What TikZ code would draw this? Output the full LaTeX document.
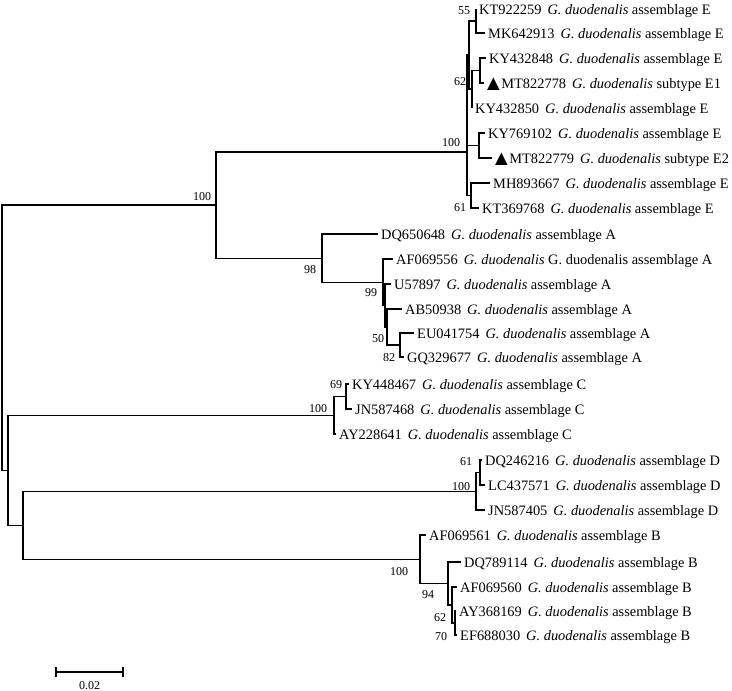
\documentclass[tikz,border=0pt]{standalone}
\usepackage{fontspec}
\setmainfont{Liberation Serif}
\newfontfamily\symfont{DejaVu Sans}
\tikzset{
  taxon/.style={anchor=west, inner xsep=3pt, inner ysep=0pt, text height=10pt,
    text depth=0pt, font=\fontsize{14.4}{17}\selectfont},
  boot/.style={inner sep=0pt, font=\fontsize{12}{14}\selectfont},
  branch/.style={line width=1.1pt}
}
\newcommand{\gd}{\hspace{6pt}\textit{G. duodenalis}}
\newcommand{\tri}{{\symfont\fontsize{16.5}{17}\selectfont ▲}\hspace{1.5pt}}

\begin{document}
\begin{tikzpicture}[x=1pt, y=-1pt]
  \useasboundingbox (0,0) rectangle (732,691);
  % internal nodes
  \coordinate (root) at (2,337.6);
  \coordinate (nEA) at (216,205);
  \coordinate (nE) at (467,152);
  \coordinate (nTop) at (469,55);
  \coordinate (n55) at (476,21);
  \coordinate (n62) at (472,89);
  \coordinate (nKY) at (480,70.5);
  \coordinate (nKYb) at (479,145.5);
  \coordinate (n61) at (471,195.5);
  \coordinate (nA) at (322,258.1);
  \coordinate (nA2) at (383,282.3);
  \coordinate (nA3) at (385,305.5);
  \coordinate (nA4) at (387,327);
  \coordinate (n82) at (400,345);
  \coordinate (nCDB) at (8,470.3);
  \coordinate (nC) at (334,415.3);
  \coordinate (nC2) at (346,396.5);
  \coordinate (nDB) at (23,525.3);
  \coordinate (nD) at (476,491.3);
  \coordinate (nD2) at (480,472.5);
  \coordinate (nB) at (420,559.3);
  \coordinate (nB2) at (448,583.5);
  \coordinate (nB3) at (452,605);
  \coordinate (nB4) at (455,623);
  % taxa
  \node[taxon] (kt922259) at (476,9) {KT922259\gd{} assemblage E};
  \node[taxon] (mk642913) at (485,33) {MK642913\gd{} assemblage E};
  \node[taxon] (ky432848) at (486,58) {KY432848\gd{} assemblage E};
  \node[taxon] (mt822778) at (484,83) {\tri MT822778\gd{} subtype E1};
  \node[taxon] (ky432850) at (472,108) {KY432850\gd{} assemblage E};
  \node[taxon] (ky769102) at (485,133) {KY769102\gd{} assemblage E};
  \node[taxon] (mt822779) at (492,158) {\tri MT822779\gd{} subtype E2};
  \node[taxon] (mh893667) at (490,183) {MH893667\gd{} assemblage E};
  \node[taxon] (kt369768) at (479,208) {KT369768\gd{} assemblage E};
  \node[taxon] (dq650648) at (378,234) {DQ650648\gd{} assemblage A};
  \node[taxon] (af069556) at (393,259) {AF069556\gd{} G. duodenalis assemblage A};
  \node[taxon] (u57897) at (391,284) {U57897\gd{} assemblage A};
  \node[taxon] (ab50938) at (402,309) {AB50938\gd{} assemblage A};
  \node[taxon] (eu041754) at (414,333) {EU041754\gd{} assemblage A};
  \node[taxon] (gq329677) at (404,357) {GQ329677\gd{} assemblage A};
  \node[taxon] (ky448467) at (349,384) {KY448467\gd{} assemblage C};
  \node[taxon] (jn587468) at (352,409) {JN587468\gd{} assemblage C};
  \node[taxon] (ay228641) at (336,434) {AY228641\gd{} assemblage C};
  \node[taxon] (dq246216) at (482,460) {DQ246216\gd{} assemblage D};
  \node[taxon] (lc437571) at (485,485) {LC437571\gd{} assemblage D};
  \node[taxon] (jn587405) at (485,510) {JN587405\gd{} assemblage D};
  \node[taxon] (af069561) at (426,535) {AF069561\gd{} assemblage B};
  \node[taxon] (dq789114) at (461,562) {DQ789114\gd{} assemblage B};
  \node[taxon] (af069560) at (457,587) {AF069560\gd{} assemblage B};
  \node[taxon] (ay368169) at (456,611) {AY368169\gd{} assemblage B};
  \node[taxon] (ef688030) at (457,635) {EF688030\gd{} assemblage B};
  % branches
  \foreach \p/\c in {root/nEA, root/nCDB, nEA/nE, nEA/nA, nE/nTop, nE/nKYb, nE/n61,
      nTop/n55, nTop/n62, n55/kt922259, n55/mk642913, n62/nKY, n62/ky432850,
      nKY/ky432848, nKY/mt822778, nKYb/ky769102, nKYb/mt822779,
      n61/mh893667, n61/kt369768, nA/dq650648, nA/nA2, nA2/af069556, nA2/nA3,
      nA3/u57897, nA3/nA4, nA4/ab50938, nA4/n82, n82/eu041754, n82/gq329677,
      nCDB/nC, nCDB/nDB, nC/nC2, nC/ay228641, nC2/ky448467, nC2/jn587468,
      nDB/nD, nDB/nB, nD/nD2, nD/jn587405, nD2/dq246216, nD2/lc437571,
      nB/af069561, nB/nB2, nB2/dq789114, nB2/nB3, nB3/af069560, nB3/nB4,
      nB4/ay368169, nB4/ef688030}
    \draw[branch] (\p) |- (\c);
  % bootstrap values
  \node[boot] (b55) at (464,11) {55};
  \node[boot] (b62e) at (460,82) {62};
  \node[boot] (b100e) at (451,143) {100};
  \node[boot] (b61e) at (460,208) {61};
  \node[boot] (b100ea) at (202,197) {100};
  \node[boot] (b98) at (310,270) {98};
  \node[boot] (b99) at (371,293) {99};
  \node[boot] (b50) at (378,339) {50};
  \node[boot] (b82) at (389,358) {82};
  \node[boot] (b69) at (336,385) {69};
  \node[boot] (b100c) at (318,409) {100};
  \node[boot] (b61d) at (466,462) {61};
  \node[boot] (b100d) at (461,487) {100};
  \node[boot] (b100b) at (399,572) {100};
  \node[boot] (b94) at (428,595) {94};
  \node[boot] (b62b) at (440,618) {62};
  \node[boot] (b70) at (441,637) {70};
  % scale bar
  \coordinate (sbl) at (56,672);
  \coordinate (sbr) at (123,672);
  \draw[branch] (sbl) -- (sbr);
  \draw[branch] ([yshift=5pt]sbl) -- ([yshift=-5pt]sbl);
  \draw[branch] ([yshift=5pt]sbr) -- ([yshift=-5pt]sbr);
  \node[boot] (sblab) at (89.5,686) {0.02};
\end{tikzpicture}
\end{document}
